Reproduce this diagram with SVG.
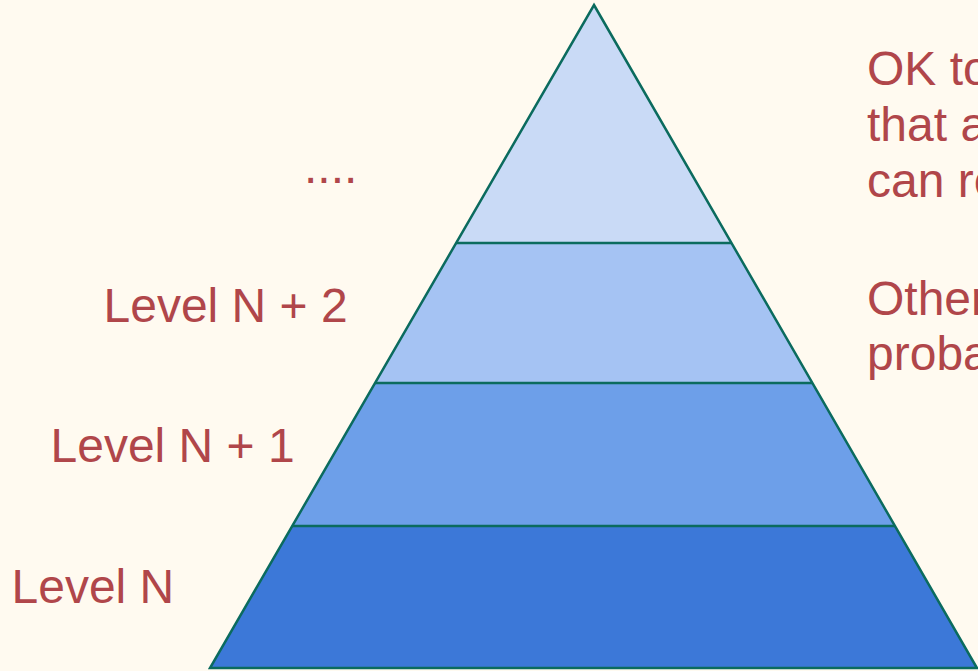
<svg xmlns="http://www.w3.org/2000/svg" width="978" height="671" viewBox="0 0 978 671">
<style>
.t{font-family:"Liberation Sans",Arial,sans-serif;font-size:48px;fill:#B0464A}
.band{stroke:none}
.edge{fill:none;stroke:#0B6B5E;stroke-width:2.5;stroke-linejoin:miter}
.div{stroke:#0B6B5E;stroke-width:2.5}
</style>
<rect width="978" height="671" fill="#FFFAF0"/>
<g id="pyramid">
<g id="band4"><polygon class="band" fill="#C9DAF6" points="594,5 731.5,243 456.2,243"/></g>
<g id="band3"><polygon class="band" fill="#A5C3F3" points="456.2,243 731.5,243 812.4,383 375,383"/></g>
<g id="band2"><polygon class="band" fill="#6D9FE9" points="375,383 812.4,383 895,526 292.2,526"/></g>
<g id="band1"><polygon class="band" fill="#3C78D8" points="292.2,526 895,526 977,668 210,668"/></g>
</g>
<g id="connectors">
<line class="div" x1="456.2" y1="243" x2="731.5" y2="243"/>
<line class="div" x1="375" y1="383" x2="812.4" y2="383"/>
<line class="div" x1="292.2" y1="526" x2="895" y2="526"/>
<polygon class="edge" points="594,5 977,668 210,668"/>
</g>
<g id="labels">
<text class="t" x="304" y="183">....</text>
<text class="t" x="103.5" y="322">Level N + 2</text>
<text class="t" x="50.5" y="462">Level N + 1</text>
<text class="t" x="11.5" y="603">Level N</text>
</g>
<g id="notes">
<text class="t" x="867" y="85">OK to</text>
<text class="t" x="867" y="141">that a</text>
<text class="t" x="867" y="197">can re</text>
<text class="t" x="867" y="315">Other</text>
<text class="t" x="867" y="370">proba</text>
</g>
</svg>
